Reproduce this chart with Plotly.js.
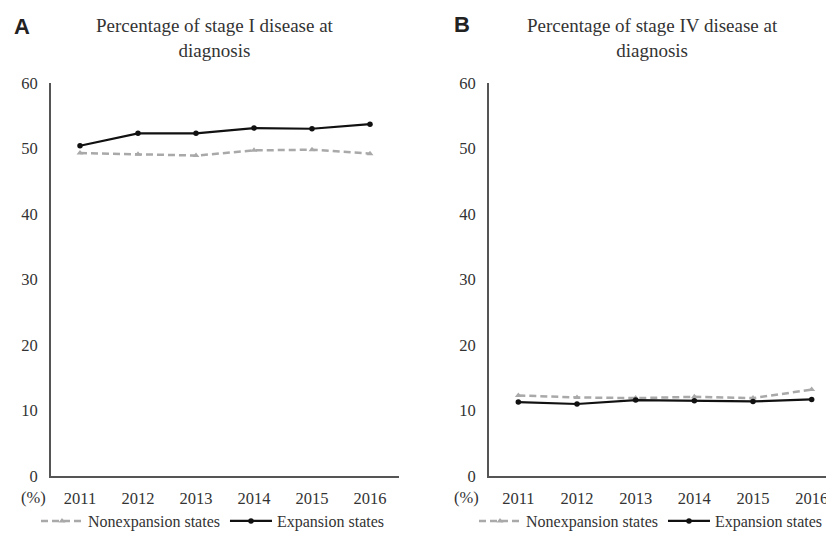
<!DOCTYPE html>
<html><head><meta charset="utf-8">
<script src="https://cdn.plot.ly/plotly-3.0.1.min.js"></script>
<style>html,body{margin:0;padding:0;overflow:hidden;background:#fff}</style>
</head><body>
<div id="chart"></div>
<script>
const years = ['2011','2012','2013','2014','2015','2016'];
const stageI_nonexp = [49.3, 49.1, 48.9, 49.7, 49.8, 49.2];
const stageI_exp    = [50.4, 52.3, 52.3, 53.1, 53.0, 53.7];
const stageIV_nonexp = [12.3, 12.0, 11.9, 12.1, 11.9, 13.2];
const stageIV_exp    = [11.3, 11.0, 11.6, 11.5, 11.4, 11.7];
const seriesNames = ['Nonexpansion states', 'Expansion states'];
const panelTitles = ['Percentage of stage I disease at<br>diagnosis', 'Percentage of stage IV disease at<br>diagnosis'];
const yTicks = [0, 10, 20, 30, 40, 50, 60];

const W = 846, H = 538;
const serif = 'Liberation Serif';
const sans = 'Liberation Sans';
const nonStyle = {line:{color:'#a9a9a9', width:2.5, dash:'7px,4px'}, marker:{symbol:'triangle-up', size:6, color:'#a9a9a9'}};
const expStyle = {line:{color:'#111', width:2.2}, marker:{symbol:'circle', size:5.5, color:'#111'}};

const traces = [
  Object.assign({x:years, y:stageI_nonexp, name:seriesNames[0], xaxis:'x', yaxis:'y', legend:'legend', mode:'lines+markers'}, nonStyle),
  Object.assign({x:years, y:stageI_exp, name:seriesNames[1], xaxis:'x', yaxis:'y', legend:'legend', mode:'lines+markers'}, expStyle),
  Object.assign({x:years, y:stageIV_nonexp, name:seriesNames[0], xaxis:'x2', yaxis:'y2', legend:'legend2', mode:'lines+markers'}, nonStyle),
  Object.assign({x:years, y:stageIV_exp, name:seriesNames[1], xaxis:'x2', yaxis:'y2', legend:'legend2', mode:'lines+markers'}, expStyle)
];

const yDom = [(H-477)/H, (H-83)/H];
function xax(dom){ return {domain:dom, type:'category', range:[-0.5, 5.5], showline:true, linecolor:'#555', linewidth:2, showgrid:false, zeroline:false,
  ticks:'outside', ticklen:6, tickcolor:'rgba(0,0,0,0)', tickfont:{family:serif, size:16.5, color:'#333'}, fixedrange:true}; }
function yax(anchor){ return {domain:yDom, anchor:anchor, range:[0,60], tickvals:yTicks, showline:true, linecolor:'#555', linewidth:2,
  showgrid:false, zeroline:false, ticks:'outside', ticklen:8, tickcolor:'rgba(0,0,0,0)', tickfont:{family:serif, size:16.5, color:'#333'}, fixedrange:true}; }

const legFont = {family:serif, size:16, color:'#333'};
function ann(text, x, y, size, family, color){
  return {text:text, x:x/W, y:(H-y)/H, xref:'paper', yref:'paper', xanchor:'center', yanchor:'middle', showarrow:false,
    font:{family:family, size:size, color:color}, align:'center'};
}
const layout = {
  width: W, height: H,
  font:{family:serif, color:'#333'},
  margin:{l:0, r:0, t:0, b:0},
  paper_bgcolor:'#fff', plot_bgcolor:'#fff',
  xaxis: Object.assign(xax([51/W, 399/W]), {anchor:'y'}),
  yaxis: yax('x'),
  xaxis2: Object.assign(xax([489/W, 841/W]), {anchor:'y2'}),
  yaxis2: yax('x2'),
  legend: {orientation:'h', x:36/W, y:(H-522)/H, xanchor:'left', yanchor:'middle', font:legFont, bgcolor:'rgba(0,0,0,0)', traceorder:'normal', itemwidth:42},
  legend2: {orientation:'h', x:474/W, y:(H-522)/H, xanchor:'left', yanchor:'middle', font:legFont, bgcolor:'rgba(0,0,0,0)', traceorder:'normal', itemwidth:42},
  annotations: [
    ann(panelTitles[0], 215, 38, 19, serif, '#333'),
    ann(panelTitles[1], 652, 38, 19, serif, '#333'),
    ann('<b>A</b>', 22, 27, 22, sans, '#222'),
    ann('<b>B</b>', 462, 25, 22, sans, '#222'),
    ann('(%)', 33, 498, 16.5, serif, '#333'),
    ann('(%)', 467, 498, 16.5, serif, '#333')
  ]
};
Plotly.newPlot('chart', traces, layout, {displayModeBar:false, staticPlot:true});
</script>
</body></html>
